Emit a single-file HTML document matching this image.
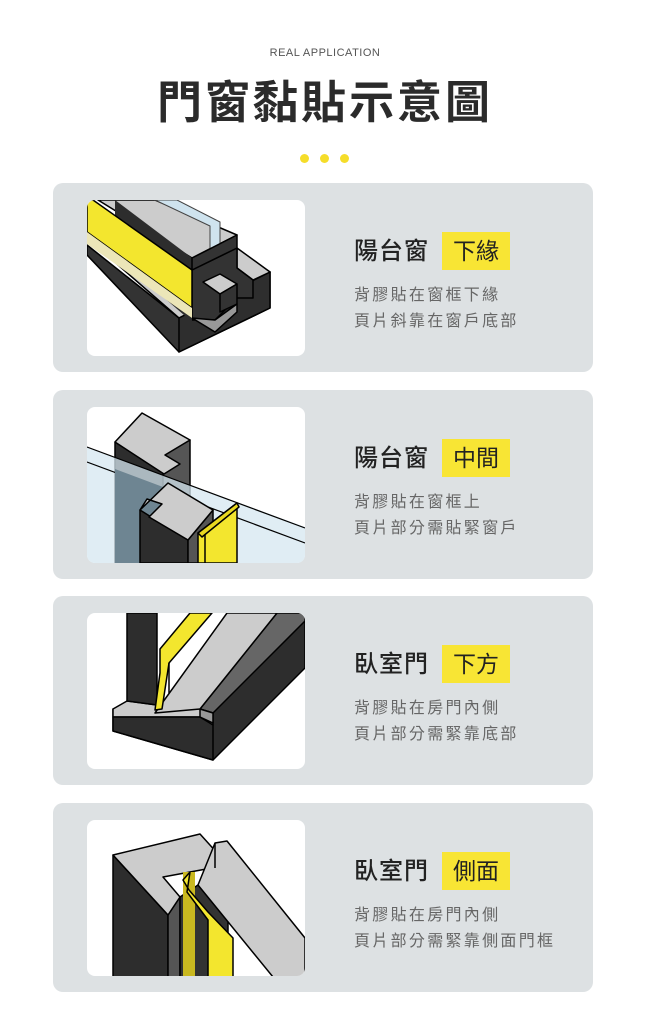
<!DOCTYPE html>
<html><head><meta charset="utf-8"><style>
*{margin:0;padding:0;box-sizing:border-box}
body{width:650px;height:1022px;background:#fff;font-family:"Liberation Sans","Noto Sans CJK TC",sans-serif;position:relative;overflow:hidden}
.sub{position:absolute;top:47px;left:0;width:650px;text-align:center;font-size:11px;color:#555;letter-spacing:0.5px}
.title{position:absolute;top:66px;left:0;width:650px;text-align:center;font-size:45px;font-weight:bold;color:#2b2b2b;letter-spacing:3px}
.dot{position:absolute;top:154px;width:9px;height:9px;border-radius:50%;background:#f5dd2a}
.card{position:absolute;left:53px;width:540px;height:189px;background:#dde1e3;border-radius:10px}
.img{position:absolute;left:34px;top:17px;width:218px;height:156px;background:#fff;border-radius:8px;overflow:hidden}
.img svg{display:block}
.h{position:absolute;left:301px;top:50px;font-size:24px;color:#222;font-weight:500;line-height:38px;letter-spacing:1px}
.tag{position:absolute;left:389px;top:49px;width:68px;height:38px;background:#f8e534;font-size:23px;color:#222;text-align:center;line-height:38px}
.d{position:absolute;left:301px;top:100px;font-size:16px;color:#666;line-height:26px;letter-spacing:2.3px}
</style></head><body>
<div class="sub">REAL APPLICATION</div>
<div class="title">門窗黏貼示意圖</div>
<div class="dot" style="left:300px"></div><div class="dot" style="left:320px"></div><div class="dot" style="left:340px"></div>

<div class="card" style="top:183px">
<div class="img"><svg width="218" height="156" viewBox="0 0 218 156" stroke="#000" stroke-width="1.5" stroke-linejoin="round">
<polygon points="0,55 92,152 183,108 183,72 92,118 0,45" fill="#333"/>
<polygon points="0,38 92,118 183,72 150,50 105,72 0,28" fill="#ccc"/>
<polygon points="183,72 183,108 92,152 92,118" fill="#2e2e2e"/>
<polygon points="150,48 183,72 166,80 150,68" fill="#ccc"/>
<polygon points="105,70 150,48 150,68 166,80 166,98 150,98 128,120 105,120" fill="#333"/>
<polygon points="116,82 133,74 150,84 133,94" fill="#ccc"/>
<polygon points="133,94 150,84 150,104 133,112" fill="#333"/>
<polygon points="105,118 128,132 150,112 150,104 128,120" fill="#999"/>
<polygon points="11,0 68,0 150,35 105,58" fill="#ccc"/>
<polygon points="28,0 105,58 105,122 28,55" fill="#2d2d2d" stroke="none"/>
<polygon points="0,0 6,0 105,70 105,108 0,32" fill="#f3e62e"/>
<polygon points="0,32 105,108 105,118 0,44" fill="#ece6b8" stroke="none"/>
<polygon points="68,0 90,0 133,22 133,48 123,52 123,26" fill="#cfe3ee" stroke="#444" stroke-width="1"/>
<polygon points="105,58 150,35 150,48 105,70" fill="#333"/>
</svg></div>
<div class="h">陽台窗</div><div class="tag">下緣</div>
<div class="d">背膠貼在窗框下緣<br>頁片斜靠在窗戶底部</div>
</div>

<div class="card" style="top:390px">
<div class="img"><svg width="218" height="156" viewBox="0 0 218 156" stroke="#000" stroke-width="1.5" stroke-linejoin="round">
<polygon points="28,35 76,65 76,156 28,156" fill="#2d2d2d"/>
<polygon points="76,48 103,33 103,100 76,115" fill="#555"/>
<polygon points="28,35 55,6 103,33 78,48 93,57 77,67" fill="#ccc"/>
<polygon points="0,40 218,120 218,156 0,156" fill="#d6e7f0" fill-opacity="0.75" stroke="none"/>
<line x1="0" y1="40" x2="218" y2="121" stroke-width="1.2"/>
<line x1="0" y1="55" x2="218" y2="136" stroke-width="1.2"/>
<polygon points="28,62 76,80 76,156 28,156" fill="#6e8592" stroke="none"/>
<polygon points="53,103 101,133 101,156 53,156" fill="#2d2d2d"/>
<polygon points="101,133 126,103 126,156 101,156" fill="#555"/>
<polygon points="53,103 81,76 126,103 101,133 62,110 75,97 60,92" fill="#ccc"/>
<polygon points="111,126 150,96 150,156 111,156" fill="#f3e62e"/>
<polygon points="111,126 150,96 152,100 115,130" fill="#e8d820"/>
<line x1="118" y1="128" x2="118" y2="156"/>
</svg></div>
<div class="h">陽台窗</div><div class="tag">中間</div>
<div class="d">背膠貼在窗框上<br>頁片部分需貼緊窗戶</div>
</div>

<div class="card" style="top:596px">
<div class="img"><svg width="218" height="156" viewBox="0 0 218 156" stroke="#000" stroke-width="1.5" stroke-linejoin="round">
<polygon points="26,96 26,118 126,147 218,55 218,0 190,0 113,96" fill="#2d2d2d"/>
<polygon points="113,96 190,0 218,0 218,8 126,100" fill="#666"/>
<polygon points="26,96 40,88 70,92 113,96 126,100 126,112 113,104 26,104" fill="#ccc"/>
<polygon points="26,104 113,104 126,112 126,147 26,118" fill="#2d2d2d"/>
<polygon points="68,100 140,0 190,0 113,96" fill="#ccc"/>
<polygon points="113,96 126,100 126,110 113,104" fill="#999"/>
<polygon points="40,0 70,0 70,92 40,88" fill="#2d2d2d"/>
<polygon points="73,36 103,0 125,0 82,50 75,96 68,97 73,60" fill="#f3e62e"/>
<line x1="82" y1="50" x2="82" y2="80"/>
</svg></div>
<div class="h">臥室門</div><div class="tag">下方</div>
<div class="d">背膠貼在房門內側<br>頁片部分需緊靠底部</div>
</div>

<div class="card" style="top:803px">
<div class="img"><svg width="218" height="156" viewBox="0 0 218 156" stroke="#000" stroke-width="1.5" stroke-linejoin="round">
<polygon points="26,35 81,95 81,157 26,157" fill="#2d2d2d"/>
<polygon points="81,95 93,77 93,157 81,157" fill="#555"/>
<polygon points="93,77 141,45 141,157 93,157" fill="#333"/>
<polygon points="26,35 113,14 141,45 76,57 93,77 81,95" fill="#ccc"/>
<polygon points="96,52 108,52 108,157 96,157" fill="#c9b820" stroke="none"/>
<polygon points="103,52 96,60 102,70 121,92 146,118 146,157 121,157 121,100 100,72" fill="#f3e62e"/>
<polygon points="128,23 140,21 218,118 218,157 186,157 111,65" fill="#ccc"/>
<line x1="128" y1="23" x2="128" y2="48"/>
</svg></div>
<div class="h">臥室門</div><div class="tag">側面</div>
<div class="d">背膠貼在房門內側<br>頁片部分需緊靠側面門框</div>
</div>
</body></html>
